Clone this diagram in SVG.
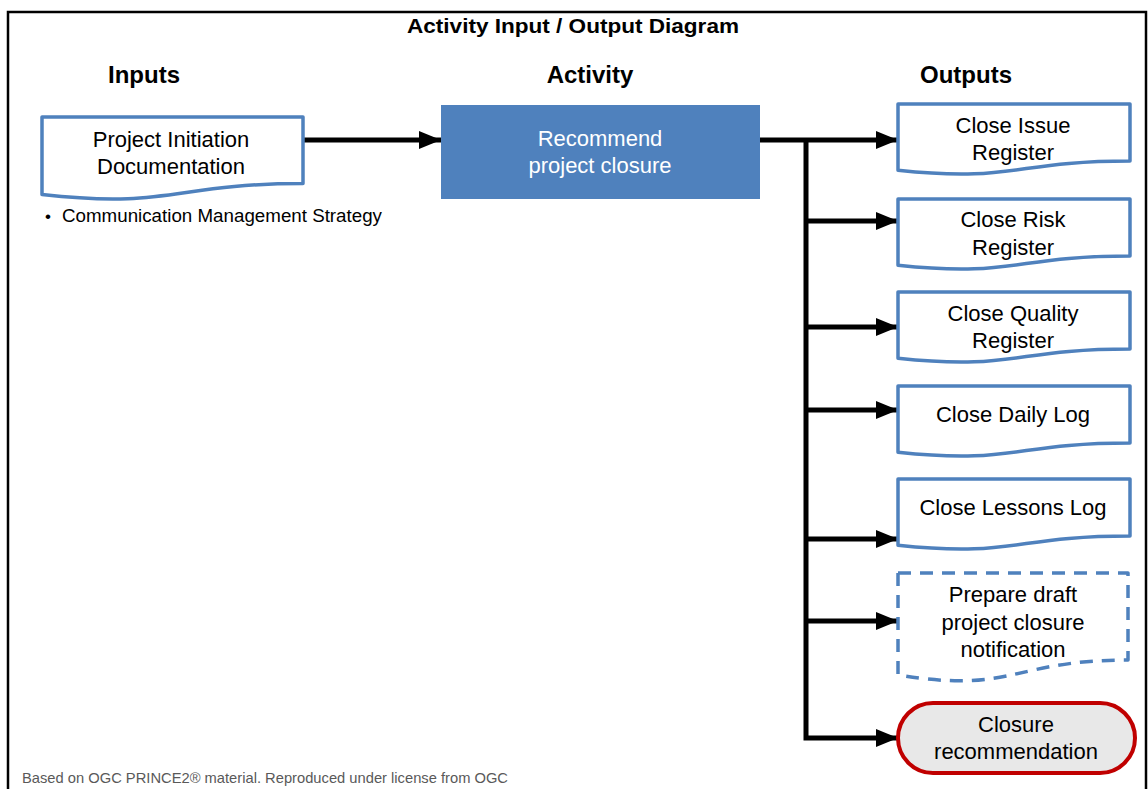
<svg xmlns="http://www.w3.org/2000/svg" width="1148" height="789" viewBox="0 0 1148 789">
<style>
.t{font-family:"Liberation Sans",Arial,sans-serif;fill:#000}
.b{font-family:"Liberation Sans",Arial,sans-serif;font-weight:bold;fill:#000}
.box{font-family:"Liberation Sans",Arial,sans-serif;font-size:22px;fill:#000;text-anchor:middle}
.doc{fill:#fff;stroke:#4F81BD;stroke-width:3.5;stroke-linejoin:round}
.dash{stroke-dasharray:13 9}
.con{stroke:#000;stroke-width:5;fill:none}
</style>
<defs>
<marker id="ah" markerUnits="userSpaceOnUse" markerWidth="22" markerHeight="18" refX="22" refY="9" orient="auto">
<path d="M0,0 L22,9 L0,18 Z" fill="#000"/>
</marker>
</defs>
<rect x="8" y="12" width="1138" height="800" fill="#fff" stroke="#000" stroke-width="2.5"/>
<text class="b" x="573" y="33" font-size="21" text-anchor="middle" textLength="332" lengthAdjust="spacingAndGlyphs">Activity Input / Output Diagram</text>
<text class="b" x="144" y="83" font-size="24" text-anchor="middle">Inputs</text>
<text class="b" x="590" y="83" font-size="24" text-anchor="middle">Activity</text>
<text class="b" x="966" y="83" font-size="24" text-anchor="middle">Outputs</text>

<g id="connectors">
<line class="con" x1="303" y1="140" x2="441" y2="140" marker-end="url(#ah)"/>
<line class="con" x1="760" y1="140" x2="898" y2="140" marker-end="url(#ah)"/>
<polyline class="con" points="806,140 806,738 898,738" marker-end="url(#ah)"/>
<line class="con" x1="806" y1="221" x2="898" y2="221" marker-end="url(#ah)"/>
<line class="con" x1="806" y1="327" x2="898" y2="327" marker-end="url(#ah)"/>
<line class="con" x1="806" y1="410" x2="898" y2="410" marker-end="url(#ah)"/>
<line class="con" x1="806" y1="539" x2="898" y2="539" marker-end="url(#ah)"/>
<line class="con" x1="806" y1="621" x2="898" y2="621" marker-end="url(#ah)"/>
</g>

<g id="input-pid">
<path class="doc" d="M42,117 H303 V183.6 C172.5,183.6 172.5,208.9 42,194.5 Z"/>
<text class="box" x="171" y="147">Project Initiation</text>
<text class="box" x="171" y="174">Documentation</text>
<text class="t" x="45" y="222" font-size="17">•</text>
<text class="t" x="62" y="222" font-size="17.5" textLength="320" lengthAdjust="spacingAndGlyphs">Communication Management Strategy</text>
</g>

<g id="activity">
<rect x="441" y="105" width="319" height="94" fill="#4F81BD"/>
<text class="box" x="600" y="146" style="fill:#fff">Recommend</text>
<text class="box" x="600" y="173" style="fill:#fff">project closure</text>
</g>

<g id="out-issue">
<path class="doc" d="M898,104 H1130 V161 C1014,161 1014,182.6 898,170.3 Z"/>
<text class="box" x="1013" y="133">Close Issue</text>
<text class="box" x="1013" y="160">Register</text>
</g>
<g id="out-risk">
<path class="doc" d="M898,199 H1130 V256 C1014,256 1014,277.6 898,265.3 Z"/>
<text class="box" x="1013" y="227">Close Risk</text>
<text class="box" x="1013" y="255">Register</text>
</g>
<g id="out-quality">
<path class="doc" d="M898,292 H1130 V349 C1014,349 1014,370.6 898,358.3 Z"/>
<text class="box" x="1013" y="321">Close Quality</text>
<text class="box" x="1013" y="348">Register</text>
</g>
<g id="out-daily">
<path class="doc" d="M898,386 H1130 V443 C1014,443 1014,464.6 898,452.3 Z"/>
<text class="box" x="1013" y="422">Close Daily Log</text>
</g>
<g id="out-lessons">
<path class="doc" d="M898,479 H1130 V536 C1014,536 1014,557.6 898,545.3 Z"/>
<text class="box" x="1013" y="515">Close Lessons Log</text>
</g>
<g id="out-draft">
<path class="doc dash" d="M898,573 H1128 V660 C1013,660 1013,694 898,675 Z"/>
<text class="box" x="1013" y="602">Prepare draft</text>
<text class="box" x="1013" y="630">project closure</text>
<text class="box" x="1013" y="657">notification</text>
</g>
<g id="out-closure">
<rect x="898" y="703" width="237" height="70" rx="35" ry="35" fill="#E8E8E8" stroke="#C00000" stroke-width="4"/>
<text class="box" x="1016" y="732">Closure</text>
<text class="box" x="1016" y="759">recommendation</text>
</g>

<text x="22" y="783" font-family="'Liberation Sans',Arial,sans-serif" font-size="15" fill="#595959" textLength="486" lengthAdjust="spacingAndGlyphs">Based on OGC PRINCE2® material. Reproduced under license from OGC</text>
</svg>
